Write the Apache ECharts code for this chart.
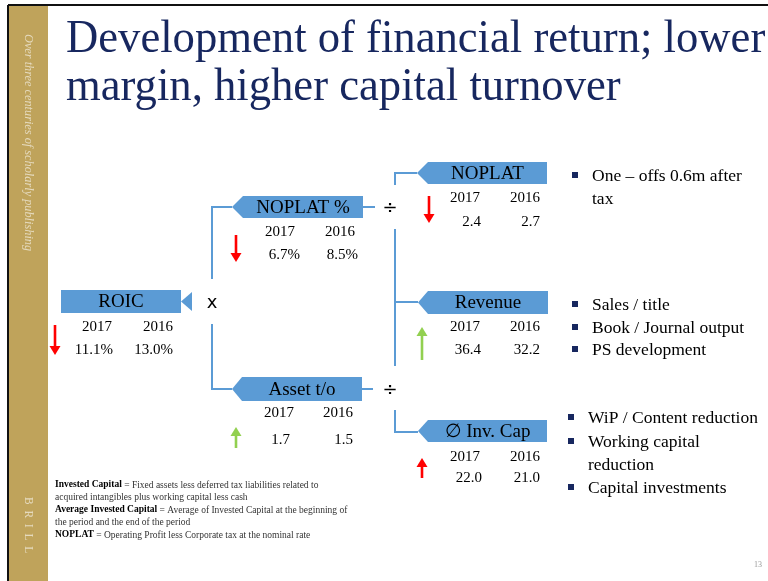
<!DOCTYPE html>
<html>
<head>
<meta charset="utf-8">
<script src="https://cdn.jsdelivr.net/npm/echarts@6/dist/echarts.min.js"></script>
<style>
  html, body { margin: 0; padding: 0; background: #fff; }
  #main { width: 768px; height: 581px; }
</style>
</head>
<body>
<div id="main"></div>
<script>
  // data
  var nodeNames = ['ROIC', 'NOPLAT %', 'Asset t/o', 'NOPLAT', 'Revenue', '\u2205 Inv. Cap'];
  var years = ['2017', '2016'];
  var values2017 = [11.1, 6.7, 1.7, 2.4, 36.4, 22.0];
  var values2016 = [13.0, 8.5, 1.5, 2.7, 32.2, 21.0];
  var units = ['%', '%', '', '', '', ''];
  var trends = ['down', 'down', 'up', 'down', 'up', 'up'];
  var trendColors = ['#ff0000', '#ff0000', '#92d050', '#ff0000', '#92d050', '#ff0000'];
  var operators = ['x', '\u00f7', '\u00f7'];
  var noplatNotes = ['One \u2013 offs 0.6m after', 'tax'];
  var revenueNotes = ['Sales / title', 'Book / Journal output', 'PS development'];
  var invCapNotes = ['WiP / Content reduction', 'Working capital', 'reduction', 'Capital investments'];
  var titleLines = ['Development of financial return; lower', 'margin, higher capital turnover'];
  var footnotes = [
    ['Invested Capital', ' = Fixed assets less deferred tax liabilities related to'],
    ['', 'acquired intangibles plus working capital less cash'],
    ['Average Invested Capital', ' = Average of Invested Capital at the beginning of'],
    ['', 'the period and the end of the period'],
    ['NOPLAT', ' = Operating Profit less Corporate tax at the nominal rate']
  ];

  // layout of the boxes (tip = arrow point on the left, or null for a flat box)
  var layout = [
    { tip: null, x1: 61, x2: 181, y1: 290, y2: 313, yearY: 327, valY: 350, yearR: [112, 173], valR: [113, 173], arrowX: 55, arrowY: [325, 355] },
    { tip: 232, x1: 243, x2: 363, y1: 196, y2: 218, yearY: 232, valY: 255, yearR: [295, 355], valR: [300, 358], arrowX: 236, arrowY: [235, 262] },
    { tip: 232, x1: 242, x2: 362, y1: 377, y2: 401, yearY: 413, valY: 440, yearR: [294, 353], valR: [290, 353], arrowX: 236, arrowY: [427, 448] },
    { tip: 417, x1: 428, x2: 547, y1: 162, y2: 184, yearY: 198, valY: 222, yearR: [480, 540], valR: [481, 540], arrowX: 429, arrowY: [196, 223] },
    { tip: 418, x1: 428, x2: 548, y1: 291, y2: 314, yearY: 327, valY: 350, yearR: [480, 540], valR: [481, 540], arrowX: 422, arrowY: [327, 360] },
    { tip: 418, x1: 428, x2: 547, y1: 420, y2: 442, yearY: 457, valY: 478, yearR: [480, 540], valR: [482, 540], arrowX: 422, arrowY: [458, 478] }
  ];
  var opPos = [[212, 303], [390, 208], [390, 390]];
  var connectors = [
    [[212, 279], [212, 207], [232, 207]],
    [[212, 324], [212, 389], [232, 389]],
    [[363, 207], [375, 207]],
    [[362, 389], [373, 389]],
    [[395, 185], [395, 173], [417, 173]],
    [[395, 229], [395, 366]],
    [[395, 302], [418, 302]],
    [[395, 410], [395, 432], [418, 432]]
  ];

  var BLUE = '#5b9bd5';
  var NAVY = '#17275f';
  var SERIF = '"Liberation Serif", "DejaVu Serif", serif';

  var myChart = echarts.init(document.getElementById('main'));

  function arrow(x, ya, yb, dir, color) {
    var top = Math.min(ya, yb), bot = Math.max(ya, yb), head = 9, hw = 5.5;
    var shaft, tri;
    if (dir === 'down') {
      shaft = { type: 'rect', shape: { x: x - 1.3, y: top, width: 2.6, height: bot - top - head }, style: { fill: color } };
      tri = { type: 'polygon', shape: { points: [[x - hw, bot - head], [x + hw, bot - head], [x, bot]] }, style: { fill: color } };
    } else {
      shaft = { type: 'rect', shape: { x: x - 1.3, y: top + head, width: 2.6, height: bot - top - head }, style: { fill: color } };
      tri = { type: 'polygon', shape: { points: [[x - hw, top + head], [x + hw, top + head], [x, top]] }, style: { fill: color } };
    }
    return [shaft, tri];
  }

  function buildGraphics() {
    var g = [];
    // frame + sidebar
    g.push({ type: 'rect', shape: { x: 9, y: 6, width: 39, height: 575 }, style: { fill: '#bfa35b' } });
    g.push({ type: 'line', shape: { x1: 8, y1: 5, x2: 768, y2: 5 }, style: { stroke: '#111', lineWidth: 2 } });
    g.push({ type: 'line', shape: { x1: 8, y1: 5, x2: 8, y2: 581 }, style: { stroke: '#111', lineWidth: 2 } });
    g.push({ type: 'text', x: 28, y: 34, rotation: -Math.PI / 2,
      style: { text: 'Over three centuries of scholarly publishing', font: 'italic 12.3px ' + SERIF, fill: 'rgba(255,255,255,0.6)', align: 'left', verticalAlign: 'middle' } });
    g.push({ type: 'text', x: 28, y: 497, rotation: -Math.PI / 2,
      style: { text: 'B  R  I  L  L', font: '11.5px ' + SERIF, fill: 'rgba(255,255,255,0.6)', align: 'left', verticalAlign: 'middle' } });

    // title
    titleLines.forEach(function (t, i) {
      g.push({ type: 'text', x: 66, y: 40 + i * 48, scaleX: 0.95, originX: 0,
        style: { text: t, font: '47px ' + SERIF, fill: NAVY, align: 'left', verticalAlign: 'middle' } });
    });

    // connectors
    connectors.forEach(function (pts) {
      g.push({ type: 'polyline', shape: { points: pts }, style: { stroke: BLUE, lineWidth: 2, fill: null } });
    });

    // operators
    operators.forEach(function (op, i) {
      g.push({ type: 'text', x: opPos[i][0], y: opPos[i][1],
        style: { text: op, font: '18px "DejaVu Sans", sans-serif', fill: '#000', align: 'center', verticalAlign: 'middle' } });
    });

    // boxes
    nodeNames.forEach(function (name, i) {
      var L = layout[i], cy = (L.y1 + L.y2) / 2;
      if (L.tip === null) {
        g.push({ type: 'rect', shape: { x: L.x1, y: L.y1, width: L.x2 - L.x1, height: L.y2 - L.y1 }, style: { fill: BLUE } });
        g.push({ type: 'polygon', shape: { points: [[L.x2, cy], [L.x2 + 11, L.y1 + 2], [L.x2 + 11, L.y2 - 2]] }, style: { fill: BLUE } });
      } else {
        g.push({ type: 'polygon', shape: { points: [[L.tip, cy], [L.x1, L.y1], [L.x2, L.y1], [L.x2, L.y2], [L.x1, L.y2]] }, style: { fill: BLUE } });
      }
      g.push({ type: 'text', x: (L.x1 + L.x2) / 2, y: cy + 1,
        style: { text: name, font: '19px ' + SERIF, fill: '#000', align: 'center', verticalAlign: 'middle' } });
      years.forEach(function (yr, k) {
        g.push({ type: 'text', x: L.yearR[k], y: L.yearY,
          style: { text: yr, font: '15px ' + SERIF, fill: '#000', align: 'right', verticalAlign: 'middle' } });
      });
      [values2017[i], values2016[i]].forEach(function (v, k) {
        g.push({ type: 'text', x: L.valR[k], y: L.valY,
          style: { text: v.toFixed(1) + units[i], font: '15px ' + SERIF, fill: '#000', align: 'right', verticalAlign: 'middle' } });
      });
      arrow(L.arrowX, L.arrowY[0], L.arrowY[1], trends[i], trendColors[i]).forEach(function (e) { g.push(e); });
    });

    // bullet notes
    function bullets(list, x, ys) {
      list.forEach(function (t, k) {
        if (ys[k][1]) {
          g.push({ type: 'rect', shape: { x: x - 20, y: ys[k][0] - 4, width: 6, height: 6 }, style: { fill: NAVY } });
        }
        g.push({ type: 'text', x: x, y: ys[k][0],
          style: { text: t, font: '17.5px ' + SERIF, fill: '#000', align: 'left', verticalAlign: 'middle' } });
      });
    }
    bullets(noplatNotes, 592, [[176, true], [199, false]]);
    bullets(revenueNotes, 592, [[305, true], [328, true], [350, true]]);
    bullets(invCapNotes, 588, [[418, true], [442, true], [465, false], [488, true]]);

    // footnotes
    footnotes.forEach(function (f, k) {
      g.push({ type: 'text', x: 55, y: 485 + k * 12.5,
        style: { text: (f[0] ? '{b|' + f[0] + '}' : '') + f[1], font: '9.5px ' + SERIF, fill: '#333', align: 'left', verticalAlign: 'middle',
          rich: { b: { font: 'bold 9.5px ' + SERIF, fill: '#000' } } } });
    });

    // page number
    g.push({ type: 'text', x: 762, y: 565, style: { text: '13', font: '8px ' + SERIF, fill: '#999', align: 'right', verticalAlign: 'middle' } });
    return g;
  }

  myChart.setOption({
    backgroundColor: '#fff',
    animation: false,
    graphic: buildGraphics()
  });
</script>
</body>
</html>
